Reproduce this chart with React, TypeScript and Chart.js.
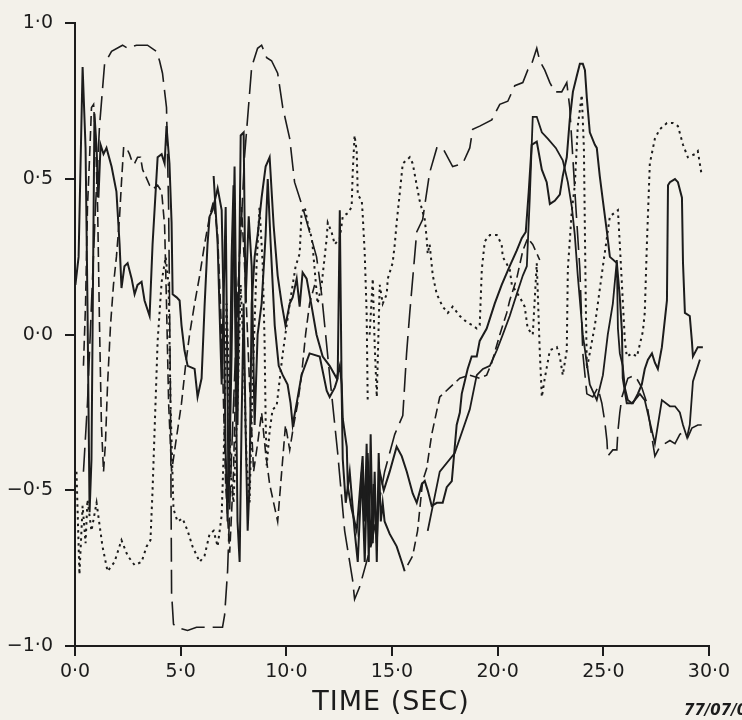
import { useEffect, useRef } from 'react';
import { Chart, registerables } from 'chart.js';

Chart.register(...registerables);

const W = 742;
const H = 720;
const BG = '#f3f1ea';
const INK = '#1c1c1c';

// Time axis ticks (s) and response ticks
const xTicks = [0, 5, 10, 15, 20, 25, 30];
const yTicks = [-1, -0.5, 0, 0.5, 1];

// Long-dash trace
const longT = [0.40, 0.59, 0.78, 0.97, 1.16, 1.40, 1.73, 2.25, 2.49, 2.91, 3.43, 3.86, 4.00, 4.14, 4.33, 4.43, 4.52, 4.57, 4.66, 4.81, 5.33, 5.75, 6.23, 6.98, 7.08, 7.22, 7.41, 7.69, 8.02, 8.36, 8.64, 8.83, 9.07, 9.30, 9.59, 9.83, 10.16, 10.39, 10.77, 11.10, 11.43, 11.67, 12.05, 12.43, 12.76, 13.14, 13.23, 13.47, 14.04, 14.65, 15.13, 15.51, 15.69, 15.84, 16.17, 16.45, 16.78, 17.12, 17.40, 17.87, 18.35, 18.68, 18.82, 19.15, 19.72, 20.10, 20.48, 20.81, 21.19, 21.42, 21.61, 21.85, 21.99, 22.23, 22.47, 22.70, 23.03, 23.27, 23.41, 23.70, 23.89, 24.03, 24.22, 24.50, 24.74, 24.93, 25.07, 25.17, 25.21, 25.45, 25.64, 25.69, 25.78, 25.88, 26.16, 26.49, 26.82, 27.06, 27.30, 27.44, 27.67, 27.91, 28.15, 28.39, 28.62, 28.86, 29.00, 29.19, 29.47, 29.71];
const longV = [-0.44, -0.22, 0.10, 0.41, 0.67, 0.87, 0.91, 0.93, 0.92, 0.93, 0.93, 0.91, 0.88, 0.84, 0.73, 0.41, -0.22, -0.83, -0.93, -0.94, -0.95, -0.94, -0.94, -0.94, -0.90, -0.76, -0.38, 0.10, 0.57, 0.86, 0.92, 0.93, 0.89, 0.88, 0.84, 0.73, 0.63, 0.49, 0.41, 0.33, 0.25, 0.13, -0.13, -0.38, -0.63, -0.79, -0.85, -0.81, -0.67, -0.44, -0.32, -0.26, -0.06, 0.07, 0.33, 0.37, 0.52, 0.60, 0.60, 0.54, 0.55, 0.60, 0.66, 0.67, 0.69, 0.74, 0.75, 0.80, 0.81, 0.85, 0.87, 0.92, 0.88, 0.85, 0.81, 0.78, 0.78, 0.81, 0.73, 0.41, 0.21, -0.06, -0.19, -0.20, -0.17, -0.22, -0.28, -0.34, -0.39, -0.37, -0.37, -0.31, -0.25, -0.20, -0.14, -0.13, -0.17, -0.22, -0.33, -0.39, -0.36, -0.35, -0.34, -0.35, -0.32, -0.31, -0.33, -0.30, -0.29, -0.29];

// Solid trace, left half
const solidAT = [0.02, 0.17, 0.36, 0.50, 0.59, 0.69, 0.78, 0.92, 1.02, 1.11, 1.21, 1.35, 1.49, 1.73, 1.96, 2.11, 2.20, 2.34, 2.49, 2.68, 2.82, 2.96, 3.15, 3.29, 3.53, 3.67, 3.91, 4.10, 4.24, 4.33, 4.47, 4.57, 4.62, 4.81, 4.95, 5.04, 5.18, 5.33, 5.66, 5.80, 5.99, 6.13, 6.27, 6.37, 6.51, 6.75, 6.94, 7.03, 7.13, 7.22, 7.32, 7.41, 7.50, 7.60, 7.69, 7.79, 7.88, 7.98, 8.07, 8.17, 8.26, 8.36, 8.50, 8.64, 8.83, 9.02, 9.21, 9.40, 9.59, 9.78, 9.96, 10.16, 10.30, 10.49, 10.63, 10.77, 10.96, 11.20, 11.43, 11.72, 12.05, 12.38, 12.53, 12.62, 12.67, 12.86, 12.91, 13.09, 13.33, 13.47, 13.61, 13.71, 13.80, 13.90, 13.99, 14.09, 14.18, 14.28, 14.37, 14.47, 14.56, 14.65, 14.89, 15.22, 15.51, 15.60];
const solidAV = [0.16, 0.25, 0.86, 0.60, 0.10, -0.57, -0.40, 0.71, 0.60, 0.44, 0.61, 0.58, 0.60, 0.54, 0.46, 0.29, 0.15, 0.22, 0.23, 0.18, 0.13, 0.16, 0.17, 0.11, 0.06, 0.29, 0.57, 0.58, 0.55, 0.67, 0.55, 0.36, 0.13, 0.12, 0.11, 0.03, -0.05, -0.10, -0.11, -0.20, -0.14, 0.09, 0.29, 0.38, 0.40, 0.47, 0.40, 0.10, -0.38, -0.60, -0.22, 0.25, 0.48, -0.06, -0.60, -0.73, -0.29, 0.10, -0.29, -0.63, -0.48, 0.10, 0.25, 0.32, 0.44, 0.54, 0.57, 0.35, 0.19, 0.10, 0.03, 0.10, 0.12, 0.18, 0.09, 0.20, 0.18, 0.09, 0.00, -0.07, -0.10, -0.14, -0.10, -0.16, -0.27, -0.36, -0.49, -0.56, -0.63, -0.51, -0.39, -0.60, -0.35, -0.73, -0.32, -0.67, -0.44, -0.73, -0.38, -0.60, -0.54, -0.60, -0.64, -0.68, -0.74, -0.76];

// Solid trace running across the middle and right
const solidBT = [6.56, 6.75, 6.94, 7.13, 7.27, 7.41, 7.55, 7.69, 7.84, 7.98, 8.07, 8.22, 8.36, 8.50, 8.64, 8.83, 9.02, 9.12, 9.26, 9.45, 9.64, 9.83, 10.06, 10.20, 10.30, 10.49, 10.72, 11.10, 11.58, 11.91, 12.05, 12.29, 12.43, 12.53, 12.62, 12.67, 12.81, 13.00, 13.23, 13.38, 13.57, 13.71, 13.85, 13.99, 14.13, 14.28, 14.42, 14.61, 14.89, 15.22, 15.46, 15.70, 15.98, 16.17, 16.41, 16.55, 16.69, 16.88, 17.12, 17.40, 17.59, 17.83, 17.97, 18.06, 18.21, 18.30, 18.44, 18.58, 18.77, 19.01, 19.15, 19.48, 19.86, 20.19, 20.57, 20.90, 21.14, 21.33, 21.47, 21.61, 21.85, 22.09, 22.32, 22.47, 22.70, 22.94, 23.08, 23.27, 23.41, 23.56, 23.74, 23.89, 24.03, 24.13, 24.22, 24.36, 24.60, 24.69, 24.83, 24.98, 25.17, 25.31, 25.64, 25.78, 25.88, 25.92, 26.11, 26.40, 26.63, 26.82, 26.96, 27.11, 27.30, 27.44, 27.58, 27.77, 28.01, 28.06, 28.15, 28.39, 28.53, 28.72, 28.77, 28.86, 29.09, 29.19, 29.24, 29.47, 29.71];
const solidBV = [0.51, 0.29, -0.16, 0.41, -0.54, -0.06, 0.54, -0.29, 0.64, 0.65, 0.10, 0.38, 0.22, -0.29, 0.00, 0.10, 0.32, 0.50, 0.29, 0.03, -0.10, -0.13, -0.16, -0.22, -0.29, -0.22, -0.13, -0.06, -0.07, -0.18, -0.20, -0.17, -0.14, 0.40, -0.19, -0.40, -0.54, -0.44, -0.63, -0.73, -0.44, -0.73, -0.38, -0.68, -0.48, -0.67, -0.44, -0.50, -0.44, -0.36, -0.39, -0.44, -0.51, -0.54, -0.48, -0.47, -0.50, -0.55, -0.54, -0.54, -0.49, -0.47, -0.36, -0.29, -0.25, -0.19, -0.15, -0.11, -0.07, -0.07, -0.02, 0.02, 0.10, 0.16, 0.22, 0.27, 0.31, 0.33, 0.46, 0.61, 0.62, 0.53, 0.49, 0.42, 0.43, 0.45, 0.51, 0.57, 0.69, 0.78, 0.83, 0.87, 0.87, 0.85, 0.76, 0.65, 0.61, 0.60, 0.51, 0.43, 0.33, 0.25, 0.23, 0.12, 0.01, -0.14, -0.22, -0.22, -0.19, -0.16, -0.11, -0.08, -0.06, -0.09, -0.11, -0.04, 0.11, 0.48, 0.49, 0.50, 0.49, 0.44, 0.23, 0.07, 0.06, -0.02, -0.07, -0.04, -0.04];

// Solid trace, right half
const solidCT = [16.69, 17.26, 17.97, 18.68, 19.01, 19.30, 19.63, 19.96, 20.24, 20.57, 20.90, 21.19, 21.38, 21.52, 21.66, 21.85, 22.09, 22.37, 22.75, 23.08, 23.32, 23.51, 23.65, 23.79, 24.03, 24.36, 24.69, 24.98, 25.21, 25.45, 25.64, 25.69, 25.78, 25.92, 26.02, 26.16, 26.35, 26.49, 26.73, 26.96, 27.20, 27.44, 27.77, 28.15, 28.39, 28.62, 28.77, 28.96, 29.09, 29.24, 29.57];
const solidCV = [-0.63, -0.44, -0.38, -0.24, -0.13, -0.11, -0.10, -0.05, 0.00, 0.06, 0.13, 0.19, 0.22, 0.44, 0.70, 0.70, 0.65, 0.63, 0.60, 0.56, 0.49, 0.41, 0.32, 0.19, 0.00, -0.16, -0.21, -0.13, 0.00, 0.10, 0.24, 0.02, -0.06, -0.10, -0.17, -0.21, -0.22, -0.21, -0.19, -0.21, -0.28, -0.35, -0.21, -0.23, -0.23, -0.25, -0.29, -0.33, -0.29, -0.15, -0.08];

// Short-dash trace, left
const dashAT = [0.40, 0.50, 0.59, 0.69, 0.78, 0.88, 0.97, 1.07, 1.16, 1.25, 1.35, 1.44, 1.54, 1.68, 1.82, 1.96, 2.11, 2.20, 2.30, 2.44, 2.58, 2.68, 2.82, 2.96, 3.10, 3.20, 3.34, 3.53, 3.72, 3.91, 4.10, 4.24, 4.33, 4.43, 4.57, 4.76, 5.04, 5.23, 5.42, 5.66, 5.90, 6.13, 6.37, 6.56, 6.75, 6.94, 7.13, 7.32, 7.50, 7.69, 7.88, 8.07, 8.26, 8.45, 8.64, 8.83, 9.02, 9.21, 9.40, 9.59, 9.78, 9.96, 10.16, 10.35, 10.54, 10.72, 10.91, 11.10, 11.34];
const dashAV = [-0.10, 0.10, 0.41, 0.57, 0.73, 0.74, 0.63, 0.41, 0.03, -0.29, -0.44, -0.35, -0.16, 0.03, 0.16, 0.25, 0.38, 0.49, 0.60, 0.60, 0.58, 0.56, 0.55, 0.57, 0.57, 0.53, 0.51, 0.48, 0.47, 0.48, 0.46, 0.35, 0.10, -0.22, -0.44, -0.35, -0.22, -0.10, 0.00, 0.10, 0.19, 0.29, 0.38, 0.43, 0.32, 0.00, -0.48, -0.70, -0.44, 0.10, 0.41, 0.16, -0.16, -0.44, -0.35, -0.25, -0.38, -0.48, -0.54, -0.60, -0.44, -0.29, -0.37, -0.29, -0.22, -0.13, 0.00, 0.10, 0.16];

// Short-dash trace, right
const dashBT = [15.74, 15.98, 16.21, 16.45, 16.64, 16.88, 17.26, 17.73, 18.21, 18.68, 19.15, 19.48, 19.72, 20.10, 20.43, 20.57, 20.90, 21.19, 21.42, 21.66, 21.99];
const dashBV = [-0.74, -0.71, -0.63, -0.47, -0.43, -0.32, -0.20, -0.17, -0.14, -0.13, -0.14, -0.13, -0.09, 0.00, 0.07, 0.11, 0.18, 0.27, 0.31, 0.29, 0.24];

// Dotted trace, first part
const dotAT = [0.07, 0.21, 0.36, 0.50, 0.59, 0.78, 1.02, 1.30, 1.54, 1.87, 2.20, 2.49, 2.82, 3.15, 3.39, 3.57, 3.67, 3.91, 4.10, 4.29, 4.43, 4.52, 4.66, 4.85, 5.09, 5.33, 5.56, 5.90, 6.13, 6.37, 6.56, 6.75, 6.94, 7.08, 7.17, 7.27, 7.36, 7.50, 7.69, 7.84, 7.98, 8.12, 8.26, 8.40, 8.59, 8.73, 8.88, 8.97, 9.02, 9.07, 9.21, 9.35, 9.54, 9.83, 10.16, 10.44, 10.63, 10.72, 10.87, 11.01, 11.20, 11.25, 11.48, 11.67, 11.91, 11.96, 12.14, 12.29, 12.53, 12.67, 12.90, 13.09, 13.14, 13.23, 13.33, 13.38, 13.57, 13.61, 13.71, 13.80, 13.85];
const dotAV = [-0.44, -0.77, -0.55, -0.67, -0.53, -0.63, -0.54, -0.68, -0.76, -0.73, -0.66, -0.71, -0.74, -0.73, -0.68, -0.66, -0.50, -0.02, 0.17, 0.25, 0.16, -0.22, -0.56, -0.60, -0.59, -0.63, -0.68, -0.73, -0.71, -0.64, -0.63, -0.68, -0.58, -0.29, 0.10, -0.10, -0.44, -0.54, -0.22, 0.16, -0.06, -0.41, -0.54, -0.16, 0.22, 0.41, 0.23, -0.02, -0.27, -0.42, -0.31, -0.24, -0.23, -0.06, 0.10, 0.22, 0.26, 0.39, 0.41, 0.36, 0.31, 0.28, 0.10, 0.16, 0.31, 0.36, 0.33, 0.29, 0.31, 0.38, 0.39, 0.41, 0.52, 0.64, 0.59, 0.45, 0.43, 0.39, 0.26, 0.07, -0.21];

// Dotted trace, second part
const dotBT = [13.94, 14.09, 14.18, 14.28, 14.42, 14.56, 14.75, 14.80, 15.03, 15.13, 15.22, 15.36, 15.51, 15.84, 15.98, 16.17, 16.31, 16.55, 16.64, 16.69, 16.78, 16.93, 17.12, 17.40, 17.64, 17.87, 18.21, 18.54, 18.82, 19.01, 19.15, 19.25, 19.39, 19.63, 19.96, 20.19, 20.24, 20.57, 20.67, 21.05, 21.28, 21.42, 21.66, 21.85, 21.99, 22.09, 22.23, 22.47, 22.80, 22.94, 23.08, 23.27, 23.32, 23.51, 23.65, 23.79, 23.98, 24.08, 24.13, 24.17, 24.22, 24.60, 24.98, 25.31, 25.69, 25.78, 25.92, 26.02, 26.11, 26.35, 26.59, 26.87, 26.96, 27.06, 27.20, 27.44, 27.67, 28.01, 28.29, 28.53, 28.77, 29.00, 29.33, 29.47, 29.66];
const dotBV = [0.00, 0.18, -0.03, -0.20, 0.16, 0.10, 0.13, 0.18, 0.23, 0.29, 0.36, 0.45, 0.55, 0.57, 0.55, 0.48, 0.43, 0.37, 0.31, 0.26, 0.29, 0.19, 0.13, 0.09, 0.07, 0.09, 0.06, 0.04, 0.03, 0.02, 0.03, 0.21, 0.30, 0.32, 0.32, 0.29, 0.25, 0.21, 0.16, 0.12, 0.09, 0.02, 0.00, 0.23, -0.05, -0.20, -0.14, -0.05, -0.04, -0.07, -0.13, -0.05, 0.21, 0.40, 0.48, 0.67, 0.77, 0.60, 0.32, 0.10, -0.11, 0.03, 0.22, 0.38, 0.40, 0.29, 0.11, -0.02, -0.07, -0.06, -0.07, 0.01, 0.07, 0.29, 0.55, 0.63, 0.66, 0.68, 0.68, 0.67, 0.61, 0.57, 0.58, 0.59, 0.51];

const FONT = '"DejaVu Sans", sans-serif';

const pts = (t: number[], v: number[]) => t.map((x, i) => ({ x, y: v[i] }));

const fmt = (n: number) => n.toFixed(1).replace('.', '\u00b7').replace('-', '\u2212');

const line = (label: string, t: number[], v: number[], dash: number[], width: number) => ({
  label,
  data: pts(t, v),
  borderColor: INK,
  borderWidth: width,
  borderDash: dash,
  pointRadius: 0,
  tension: 0,
  fill: false,
});

const paperPlugin = {
  id: 'paper',
  beforeDraw(chart: Chart) {
    const { ctx } = chart;
    ctx.save();
    ctx.fillStyle = BG;
    ctx.fillRect(0, 0, chart.width, chart.height);
    ctx.restore();
  },
  afterDraw(chart: Chart) {
    const { ctx, chartArea } = chart;
    ctx.save();
    ctx.fillStyle = INK;
    ctx.textBaseline = 'alphabetic';
    ctx.textAlign = 'center';
    ctx.font = `27px ${FONT}`;
    (ctx as any).letterSpacing = '1px';
    ctx.fillText('TIME (SEC)', (chartArea.left + chartArea.right) / 2 - 1, 710);
    (ctx as any).letterSpacing = '0px';
    ctx.textAlign = 'left';
    ctx.font = `italic bold 15px ${FONT}`;
    ctx.fillText('77/07/0', 684, 715);
    ctx.restore();
  },
};

export default function App() {
  const ref = useRef<HTMLCanvasElement>(null);

  useEffect(() => {
    document.body.style.margin = '0';
    const canvas = ref.current;
    if (!canvas) return;
    const chart = new Chart(canvas, {
      type: 'line',
      data: {
        datasets: [
          line('dotA', dotAT, dotAV, [2.5, 4], 2),
          line('dotB', dotBT, dotBV, [2.5, 4], 2),
          line('long', longT, longV, [24, 8], 1.6),
          line('dashA', dashAT, dashAV, [10, 5], 1.6),
          line('dashB', dashBT, dashBV, [10, 5], 1.6),
          line('solidA', solidAT, solidAV, [], 2),
          line('solidB', solidBT, solidBV, [], 2),
          line('solidC', solidCT, solidCV, [], 1.8),
        ],
      },
      options: {
        animation: false,
        responsive: false,
        devicePixelRatio: 1,
        layout: { padding: { top: 15, right: 33, left: 0, bottom: 0 } },
        plugins: {
          legend: { display: false },
          tooltip: { enabled: false },
        },
        scales: {
          x: {
            type: 'linear',
            min: 0,
            max: 30,
            afterBuildTicks: (s: any) => {
              s.ticks = xTicks.map((value) => ({ value }));
            },
            ticks: {
              callback: (val: any) => fmt(Number(val)),
              font: { family: FONT, size: 19 },
              color: INK,
              padding: 5,
              maxRotation: 0,
              autoSkip: false,
            },
            grid: { drawOnChartArea: false, drawTicks: true, tickLength: 10, color: INK, lineWidth: 2 },
            border: { color: INK, width: 2 },
            afterFit: (s: any) => {
              s.height = 74;
            },
          },
          y: {
            type: 'linear',
            min: -1,
            max: 1,
            afterBuildTicks: (s: any) => {
              s.ticks = yTicks.map((value) => ({ value }));
            },
            ticks: {
              callback: (val: any) => fmt(Number(val)),
              font: { family: FONT, size: 19 },
              color: INK,
              padding: 12,
              autoSkip: false,
            },
            grid: { drawOnChartArea: false, drawTicks: true, tickLength: 10, color: INK, lineWidth: 2 },
            border: { color: INK, width: 2 },
            afterFit: (s: any) => {
              s.width = 75;
            },
          },
        },
      },
      plugins: [paperPlugin],
    });
    return () => chart.destroy();
  }, []);

  return (
    <div style={{ width: W, height: H, background: BG, overflow: 'hidden' }}>
      <canvas ref={ref} width={W} height={H} style={{ display: 'block', width: W, height: H }} />
    </div>
  );
}
